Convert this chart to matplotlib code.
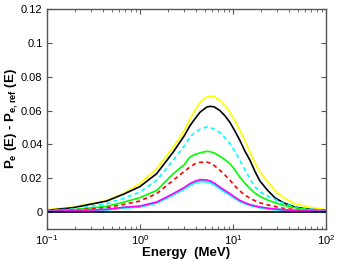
import numpy as np
import matplotlib
matplotlib.use('Agg')
import matplotlib.pyplot as plt
from matplotlib.ticker import LogLocator, NullFormatter

plt.rcParams['font.family'] = ['Liberation Sans', 'DejaVu Sans']
plt.rcParams['mathtext.fontset'] = 'custom'
plt.rcParams['mathtext.bf'] = 'Liberation Sans:bold'
plt.rcParams['mathtext.rm'] = 'Liberation Sans'

# Energy grid (MeV)
energy = [0.1, 0.193, 0.44, 0.665, 1.0, 1.52, 2.29, 3.0, 3.46, 3.9, 4.44,
          5.23, 5.68, 6.3, 7.26, 8.2, 9.31, 10.5, 11.9, 13.5, 15.3, 17.3,
          19.5, 23.5, 28.3, 35.0, 46.4, 60.0, 76.2, 100.0]

yellow = [0.0014, 0.0030, 0.0069, 0.0110, 0.0168, 0.0257, 0.0385, 0.0480,
          0.0550, 0.0600, 0.0650, 0.0680, 0.0685, 0.0683, 0.0660, 0.0630,
          0.0592, 0.0540, 0.0484, 0.0420, 0.0355, 0.0290, 0.0240, 0.0180,
          0.0128, 0.0085, 0.0050, 0.0034, 0.0024, 0.0014]
black = [0.0010, 0.0026, 0.0065, 0.0105, 0.0150, 0.0227, 0.0355, 0.0450,
         0.0510, 0.0550, 0.0590, 0.0620, 0.0625, 0.0622, 0.0600, 0.0570,
         0.0530, 0.0480, 0.0424, 0.0360, 0.0306, 0.0240, 0.0185, 0.0130,
         0.0085, 0.0055, 0.0030, 0.0020, 0.0014, 0.0010]
cyan_dash = [0.0009, 0.0018, 0.0050, 0.0080, 0.0118, 0.0188, 0.0306, 0.0390,
             0.0444, 0.0470, 0.0490, 0.0503, 0.0500, 0.0490, 0.0470, 0.0440,
             0.0405, 0.0360, 0.0306, 0.0250, 0.0195, 0.0150, 0.0120, 0.0095,
             0.0075, 0.0052, 0.0030, 0.0020, 0.0015, 0.0010]
green = [0.0008, 0.0014, 0.0034, 0.0058, 0.0085, 0.0128, 0.0227, 0.0280,
         0.0325, 0.0340, 0.0350, 0.0359, 0.0357, 0.0350, 0.0330, 0.0310,
         0.0286, 0.0250, 0.0207, 0.0170, 0.0138, 0.0112, 0.0093, 0.0072,
         0.0056, 0.0040, 0.0026, 0.0016, 0.0012, 0.0010]
red_dash = [0.0008, 0.0012, 0.0026, 0.0045, 0.0065, 0.0109, 0.0188, 0.0240,
            0.0266, 0.0285, 0.0294, 0.0296, 0.0290, 0.0275, 0.0247, 0.0220,
            0.0188, 0.0155, 0.0125, 0.0100, 0.0082, 0.0067, 0.0055, 0.0043,
            0.0033, 0.0022, 0.0015, 0.0010, 0.0008, 0.0006]
magenta = [0.0005, 0.0008, 0.0016, 0.0028, 0.0035, 0.0059, 0.0109, 0.0145,
           0.0168, 0.0182, 0.0192, 0.0190, 0.0185, 0.0172, 0.0148, 0.0128,
           0.0109, 0.0088, 0.0069, 0.0055, 0.0044, 0.0036, 0.0030, 0.0023,
           0.0018, 0.0014, 0.0010, 0.0008, 0.0006, 0.0005]
cyan = [0.0004, 0.0007, 0.0014, 0.0026, 0.0032, 0.0055, 0.0103, 0.0138,
        0.0160, 0.0174, 0.0183, 0.0181, 0.0176, 0.0163, 0.0140, 0.0121,
        0.0103, 0.0083, 0.0065, 0.0052, 0.0041, 0.0034, 0.0028, 0.0021,
        0.0016, 0.0012, 0.0009, 0.0007, 0.0005, 0.0004]
baseline = [0.0] * len(energy)

fig = plt.figure(figsize=(3.37, 2.59), dpi=100)
ax = fig.add_axes([0.1386, 0.1158, 0.8284, 0.8494])

lw = 1.2
ax.plot(energy, yellow, '-', color=(1, 1, 0), lw=lw)
ax.plot(energy, black, '-', color='k', lw=lw)
ax.plot(energy, cyan_dash, '--', color=(0, 1, 1), lw=lw, dashes=(2.5, 2))
ax.plot(energy, green, '-', color=(0, 1, 0), lw=lw)
ax.plot(energy, red_dash, '--', color=(1, 0, 0), lw=lw, dashes=(2.5, 2))
ax.plot(energy, cyan, '-', color=(0, 1, 1), lw=lw + 0.6)
ax.plot(energy, magenta, '-', color=(1, 0, 1), lw=lw)
ax.plot(energy, baseline, '-', color='k', lw=lw)

ax.set_xscale('log')
ax.set_xlim(0.1, 100)
ax.set_ylim(-0.01, 0.12)
ax.set_yticks([0, 0.02, 0.04, 0.06, 0.08, 0.1, 0.12])
ax.set_yticklabels(['0', '0.02', '0.04', '0.06', '0.08', '0.1', '0.12'])
ax.xaxis.set_minor_locator(LogLocator(base=10, subs=np.arange(2, 10)))
ax.xaxis.set_minor_formatter(NullFormatter())

frame = '#555555'
for s in ax.spines.values():
    s.set_color(frame)
    s.set_linewidth(1.0)
ax.tick_params(which='both', direction='in', top=True, right=True,
               colors=frame, labelcolor='k', labelsize=8)
ax.tick_params(which='major', length=3.5, pad=3)
ax.tick_params(which='minor', length=2)

ax.set_xlabel('Energy  (MeV)', fontsize=9.5, fontweight='bold', labelpad=0)
ax.set_ylabel(r'$\mathbf{P_e}$ (E) - $\mathbf{P_{e,ref}}$ (E)',
              fontsize=9.5, fontweight='bold', labelpad=1)

fig.savefig('out.png', dpi=100)
